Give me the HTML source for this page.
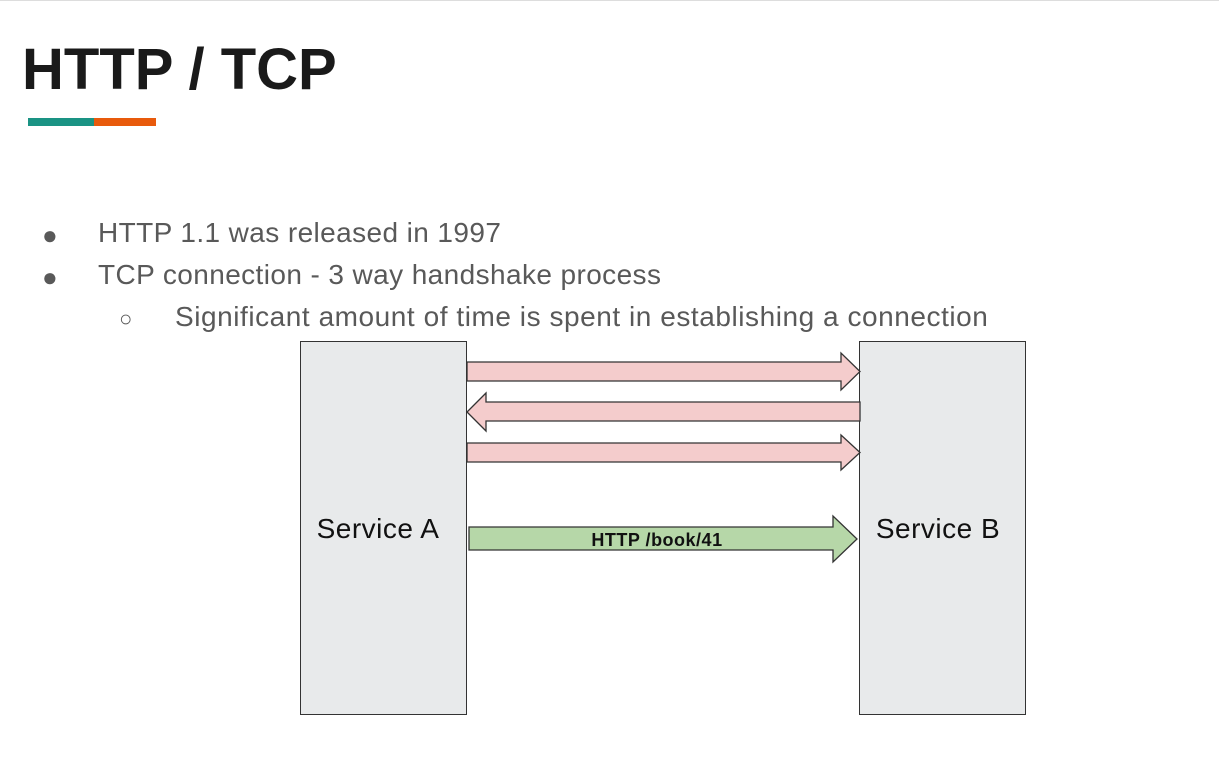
<!DOCTYPE html>
<html><head><style>
body{margin:0;width:1219px;height:769px;background:#fff;position:relative;overflow:hidden;font-family:"Liberation Sans",sans-serif}
.t{position:absolute;white-space:nowrap}
.b{font-size:28px;color:#595959;letter-spacing:0.4px}
</style></head><body>
<div style="position:absolute;left:0;top:0;width:1219px;height:1px;background:#ddd"></div>
<div class="t" style="left:22px;top:36px;font-size:58px;font-weight:bold;color:#1a1a1a">HTTP / TCP</div>
<div style="position:absolute;left:28px;top:118px;width:66px;height:8px;background:#1a9384"></div>
<div style="position:absolute;left:94px;top:118px;width:62px;height:8px;background:#e85a0c"></div>
<div class="t" style="left:42px;top:220px;font-size:26px;color:#595959">●</div>
<div class="t b" style="left:98px;top:217px">HTTP 1.1 was released in 1997</div>
<div class="t" style="left:42px;top:262px;font-size:26px;color:#595959">●</div>
<div class="t b" style="left:98px;top:259px">TCP connection - 3 way handshake process</div>
<div class="t" style="left:119px;top:306px;font-size:22px;color:#595959">○</div>
<div class="t b" style="left:175px;top:301px;letter-spacing:0.55px">Significant amount of time is spent in establishing a connection</div>
<svg style="position:absolute;left:0;top:0" width="1219" height="769">
<rect x="300.5" y="341.5" width="166" height="373" fill="#e8eaeb" stroke="#333"/>
<rect x="859.5" y="341.5" width="166" height="373" fill="#e8eaeb" stroke="#333"/>
<text x="378" y="538" font-size="28" letter-spacing="0.5" text-anchor="middle" fill="#111" font-family="Liberation Sans">Service A</text>
<text x="938" y="538" font-size="28" letter-spacing="0.5" text-anchor="middle" fill="#111" font-family="Liberation Sans">Service B</text>
<polygon points="467,362 841,362 841,353 860,371.5 841,390 841,381 467,381" fill="#f4cccc" stroke="#333" stroke-width="1.3"/>
<polygon points="860,402 486,402 486,393 467,412 486,431 486,421 860,421" fill="#f4cccc" stroke="#333" stroke-width="1.3"/>
<polygon points="467,443 841,443 841,435 860,452.5 841,470 841,462 467,462" fill="#f4cccc" stroke="#333" stroke-width="1.3"/>
<polygon points="469,527 833,527 833,516 857,539 833,562 833,550 469,550" fill="#b6d7a8" stroke="#333" stroke-width="1.3"/>
<text x="657" y="546" font-size="18" font-weight="bold" letter-spacing="0.5" text-anchor="middle" fill="#111" font-family="Liberation Sans">HTTP /book/41</text>
</svg>
</body></html>
